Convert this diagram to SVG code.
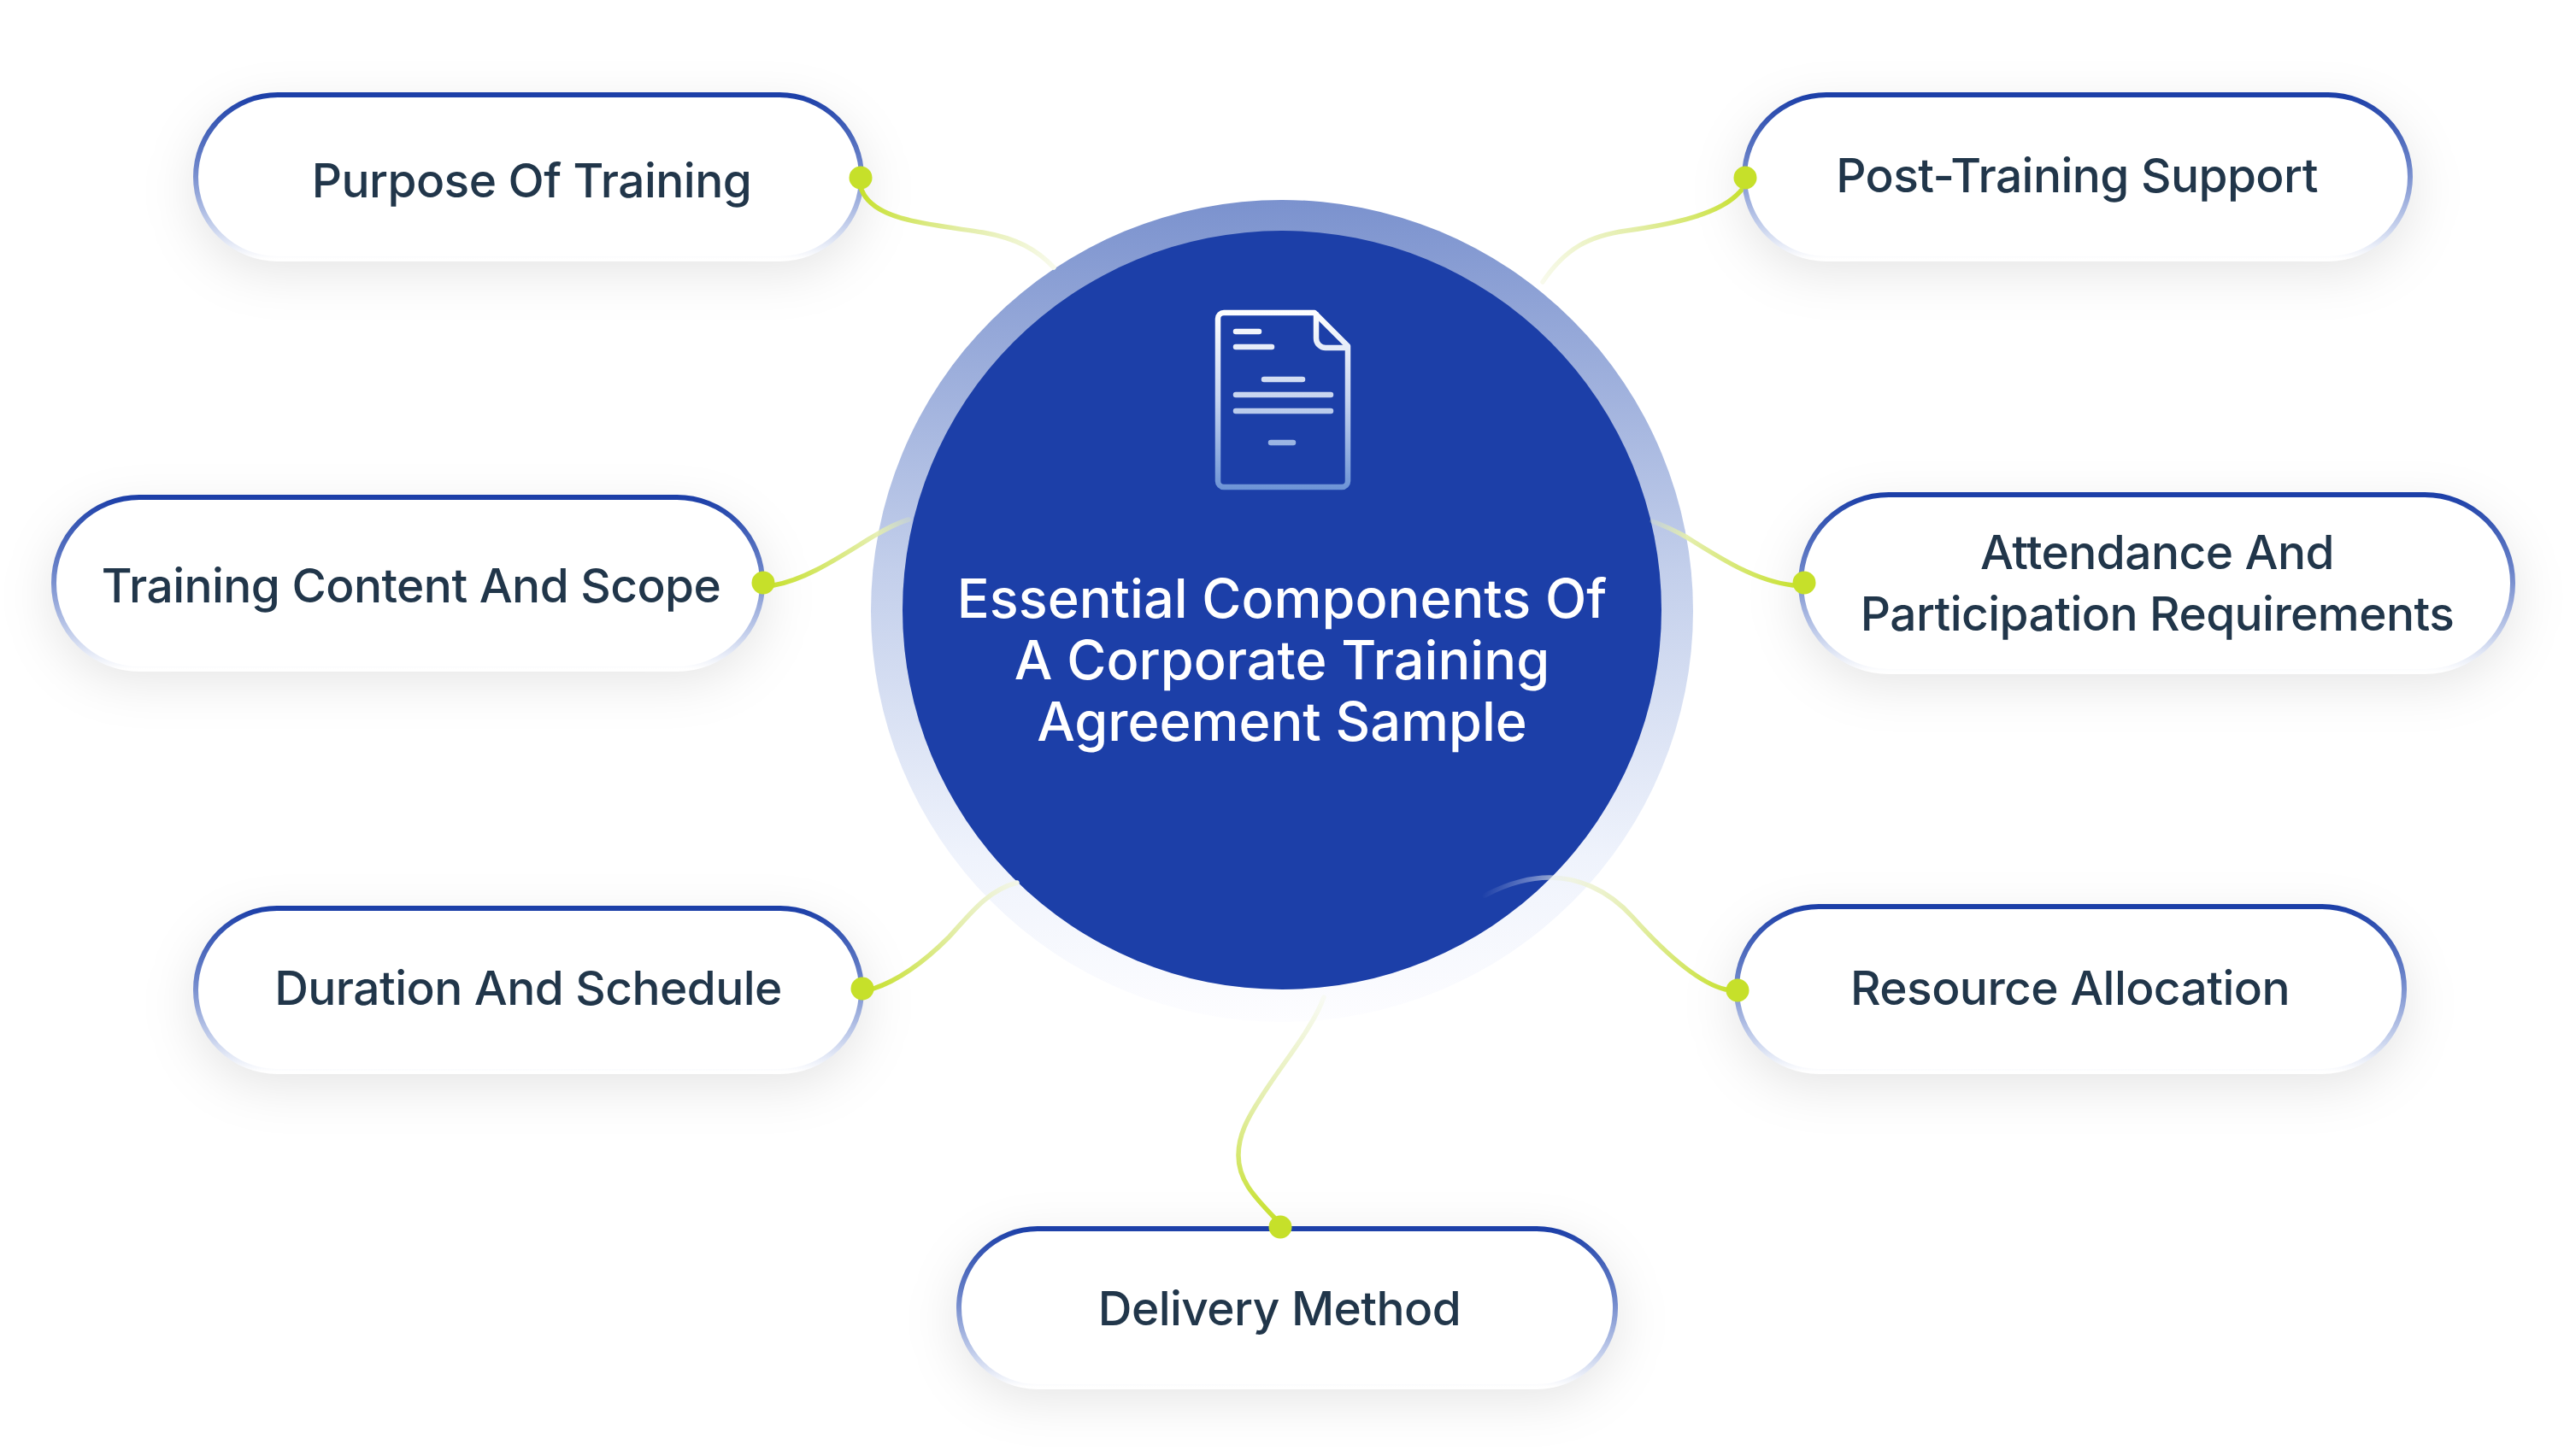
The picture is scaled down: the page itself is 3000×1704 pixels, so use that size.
<svg xmlns="http://www.w3.org/2000/svg" width="3000" height="1704" viewBox="0 0 3000 1704">
<style>
.pill{fill:#fff;stroke:url(#pillStroke);stroke-width:6}
.shadow{fill:#000;fill-opacity:.105;filter:url(#soft)}
.lbl{font-family:"Inter","Liberation Sans",sans-serif;font-size:55px;font-weight:500;letter-spacing:-.55px;fill:#21364a;text-anchor:middle}
.title{font-family:"Inter","Liberation Sans",sans-serif;font-size:63px;font-weight:500;fill:#fff;text-anchor:middle}
.wire{fill:none;stroke-width:5.5;stroke-linecap:round}
.dot{fill:#c6e02a}
.ico{fill:none;stroke:url(#iconGrad);stroke-width:6.5;stroke-linecap:round;stroke-linejoin:round}
</style>
<defs>
<filter id="soft" x="-20%" y="-70%" width="140%" height="240%"><feGaussianBlur stdDeviation="30"/></filter>
<linearGradient id="pillStroke" x1="0" y1="0" x2="0" y2="1"><stop offset="0" stop-color="#1c3fa8"/><stop offset=".45" stop-color="#6f87cb"/><stop offset=".8" stop-color="#c5d0ec"/><stop offset="1" stop-color="#fff"/></linearGradient>
<linearGradient id="ring" x1="0" y1="0" x2="0" y2="1"><stop offset="0" stop-color="#7b92ce"/><stop offset=".45" stop-color="#c3cfeb"/><stop offset=".8" stop-color="#eff3fc"/><stop offset="1" stop-color="#fdfdff"/></linearGradient>
<linearGradient id="iconGrad" gradientUnits="userSpaceOnUse" x1="0" y1="363" x2="0" y2="573"><stop offset="0" stop-color="#fff"/><stop offset=".5" stop-color="#c5d3ef"/><stop offset="1" stop-color="#6d94d6"/></linearGradient>
<linearGradient id="w1" gradientUnits="userSpaceOnUse" x1="1008" y1="215" x2="1233" y2="313"><stop offset="0" stop-color="#c6e02a"/><stop offset=".55" stop-color="#e4eeac"/><stop offset="1" stop-color="#f8faec"/></linearGradient>
<linearGradient id="w2" gradientUnits="userSpaceOnUse" x1="2042" y1="215" x2="1805" y2="330"><stop offset="0" stop-color="#c6e02a"/><stop offset=".55" stop-color="#e4eeac"/><stop offset="1" stop-color="#f8faec"/></linearGradient>
<linearGradient id="w3" gradientUnits="userSpaceOnUse" x1="893" y1="685" x2="1063" y2="608"><stop offset="0" stop-color="#c6e02a"/><stop offset=".75" stop-color="#e4eeac"/><stop offset="1" stop-color="#e4eeac" stop-opacity=".25"/></linearGradient>
<linearGradient id="w4" gradientUnits="userSpaceOnUse" x1="2111" y1="685" x2="1933" y2="610"><stop offset="0" stop-color="#c6e02a"/><stop offset=".75" stop-color="#e4eeac"/><stop offset="1" stop-color="#e4eeac" stop-opacity=".2"/></linearGradient>
<linearGradient id="w5" gradientUnits="userSpaceOnUse" x1="1009" y1="1157" x2="1190" y2="1033"><stop offset="0" stop-color="#c6e02a"/><stop offset=".6" stop-color="#e4eeac"/><stop offset="1" stop-color="#f2f5e8"/></linearGradient>
<linearGradient id="w6" gradientUnits="userSpaceOnUse" x1="2033" y1="1159" x2="1737" y2="1040"><stop offset="0" stop-color="#c6e02a"/><stop offset=".45" stop-color="#e4eeac"/><stop offset=".72" stop-color="#eff3dc" stop-opacity=".8"/><stop offset=".85" stop-color="#dfe6f4" stop-opacity=".4"/><stop offset="1" stop-color="#dfe6f4" stop-opacity="0"/></linearGradient>
<linearGradient id="w7" gradientUnits="userSpaceOnUse" x1="1498" y1="1436" x2="1549" y2="1167"><stop offset="0" stop-color="#c6e02a"/><stop offset=".5" stop-color="#e4eeac"/><stop offset="1" stop-color="#f8faf4"/></linearGradient>
</defs>

<g id="center-node">
<circle cx="1500" cy="715" r="481" fill="url(#ring)"/>
<circle cx="1500" cy="714" r="444" fill="#1c3fa8"/>
<g id="doc-icon">
<path class="ico" d="M1538 366H1432a7 7 0 0 0-7 7V563a7 7 0 0 0 7 7H1570a7 7 0 0 0 7-7V405Z"/>
<path class="ico" d="M1540 368V396a11 11 0 0 0 11 11H1576"/>
<path class="ico" d="M1446 388H1473M1446 406H1488M1479 444H1524M1446 462H1557M1446 481H1557M1487 518H1513"/>
</g>
<text class="title" x="1500" y="723">Essential Components Of</text>
<text class="title" x="1500" y="795">A Corporate Training</text>
<text class="title" x="1500" y="867">Agreement Sample</text>
</g>

<g id="node-purpose">
<rect class="shadow" x="226" y="128" width="785" height="190" rx="95"/>
<rect class="pill" x="229" y="111" width="779" height="192" rx="96"/>
<text class="lbl" x="622" y="231">Purpose Of Training</text>
</g>
<g id="node-post-training">
<rect class="shadow" x="2038" y="128" width="785" height="190" rx="95"/>
<rect class="pill" x="2041" y="111" width="779" height="192" rx="96"/>
<text class="lbl" x="2430" y="225">Post-Training Support</text>
</g>
<g id="node-content">
<rect class="shadow" x="60" y="600" width="835" height="196" rx="98"/>
<rect class="pill" x="63" y="582" width="829" height="201" rx="100"/>
<text class="lbl" x="481" y="705">Training Content And Scope</text>
</g>
<g id="node-attendance">
<rect class="shadow" x="2104" y="596" width="839" height="204" rx="102"/>
<rect class="pill" x="2107" y="579" width="833" height="207" rx="103"/>
<text class="lbl" x="2524" y="666">Attendance And</text>
<text class="lbl" x="2524" y="738">Participation Requirements</text>
</g>
<g id="node-duration">
<rect class="shadow" x="226" y="1080" width="785" height="190" rx="95"/>
<rect class="pill" x="229" y="1063" width="779" height="191" rx="95"/>
<text class="lbl" x="618" y="1176">Duration And Schedule</text>
</g>
<g id="node-resource">
<rect class="shadow" x="2029" y="1078" width="787" height="192" rx="96"/>
<rect class="pill" x="2032" y="1061" width="781" height="193" rx="96"/>
<text class="lbl" x="2422" y="1176">Resource Allocation</text>
</g>
<g id="node-delivery">
<rect class="shadow" x="1119" y="1452" width="774" height="185" rx="92"/>
<rect class="pill" x="1122" y="1438" width="768" height="185" rx="92"/>
<text class="lbl" x="1497" y="1551">Delivery Method</text>
</g>

<g id="connectors">
<path class="wire" stroke="url(#w1)" d="M1008 222C1022 258 1085 262 1150 272C1190 279 1213 292 1233 313"/>
<path class="wire" stroke="url(#w2)" d="M2037 223C2015 250 1960 262 1903 270C1860 276 1832 290 1805 330"/>
<path class="wire" stroke="url(#w3)" d="M905 685C945 678 985 650 1023 627C1040 617 1050 612 1063 608"/>
<path class="wire" stroke="url(#w4)" d="M2098 685C2055 680 2015 655 1974 629C1958 620 1947 615 1933 610"/>
<path class="wire" stroke="url(#w5)" d="M1022 1157C1055 1146 1085 1122 1110 1097C1135 1070 1155 1042 1190 1033"/>
<path class="wire" stroke="url(#w6)" d="M2019 1158C1985 1150 1945 1112 1910 1073C1880 1040 1845 1027 1813 1027C1785 1027 1760 1036 1737 1048"/>
<path class="wire" stroke="url(#w7)" d="M1492 1426C1465 1398 1449 1380 1449 1352C1449 1328 1460 1308 1475 1285C1500 1245 1535 1205 1549 1167"/>
<circle class="dot" cx="1007" cy="208" r="13.5"/>
<circle class="dot" cx="2042" cy="208" r="13.5"/>
<circle class="dot" cx="893" cy="682" r="13.5"/>
<circle class="dot" cx="2111" cy="682" r="13.5"/>
<circle class="dot" cx="1009" cy="1157" r="13.5"/>
<circle class="dot" cx="2033" cy="1159" r="13.5"/>
<circle class="dot" cx="1498" cy="1436" r="13.5"/>
</g>
</svg>
